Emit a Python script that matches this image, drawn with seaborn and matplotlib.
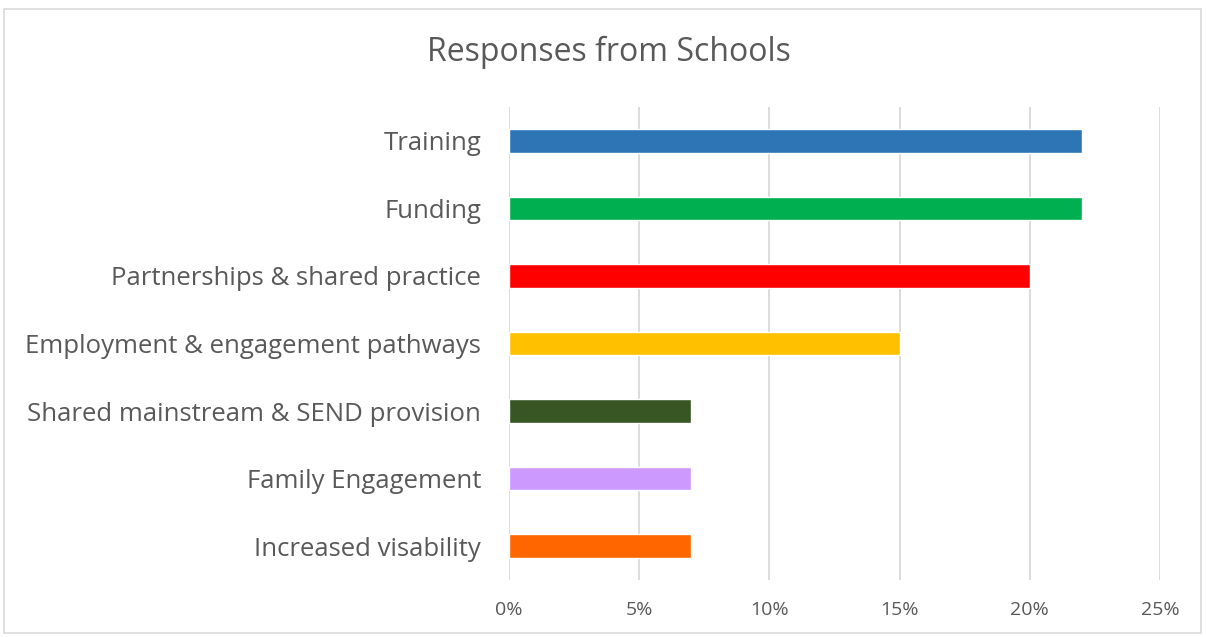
import matplotlib
matplotlib.use("Agg")
import matplotlib.pyplot as plt
import seaborn as sns
import pandas as pd
from matplotlib.patches import Rectangle
from matplotlib.ticker import FuncFormatter

categories = ["Training", "Funding", "Partnerships & shared practice",
              "Employment & engagement pathways", "Shared mainstream & SEND provision",
              "Family Engagement", "Increased visability"]
values = [22, 22, 20, 15, 7, 7, 7]
colors = ["#2E75B6", "#00B050", "#FF0000", "#FFC000", "#375623", "#CC99FF", "#FF6600"]
xticks = [0, 5, 10, 15, 20, 25]
title = "Responses from Schools"

sns.set_theme(style="white")
plt.rcParams['font.family'] = ['Open Sans', 'DejaVu Sans']

df = pd.DataFrame({"cat": categories, "val": values})
fig = plt.figure(figsize=(12.06, 6.37), dpi=100)
ax = fig.add_axes([509/1206, 1-580/637, (1160-509)/1206, (580-107)/637])

sns.barplot(data=df, y="cat", x="val", hue="cat", palette=colors, orient="h",
            width=0.35, legend=False, ax=ax, saturation=1)
ax.set_xlim(0, 25)
ax.set_ylim(6.5, -0.5)
ax.set_xticks(xticks)
ax.xaxis.set_major_formatter(FuncFormatter(lambda v, p: f"{int(v)}%"))
ax.grid(axis="x", color="#D9D9D9", linewidth=1.3)
ax.set_axisbelow(True)
for s in ax.spines.values():
    s.set_visible(False)
ax.set_xlabel("")
ax.set_ylabel("")
ax.tick_params(axis="y", length=0, pad=20, labelsize=18.5, labelcolor="#595959")
ax.tick_params(axis="x", length=0, pad=15, labelsize=14, labelcolor="#595959")

fig.text(609/1206, 1-52/637, title, ha="center", va="center", fontsize=23, color="#595959")
fig.patches.append(Rectangle((4/1206, 4/637), 1197/1206, 624/637, transform=fig.transFigure,
                             fill=False, edgecolor="#D9D9D9", linewidth=1.2))
fig.savefig("out.png", dpi=100)
